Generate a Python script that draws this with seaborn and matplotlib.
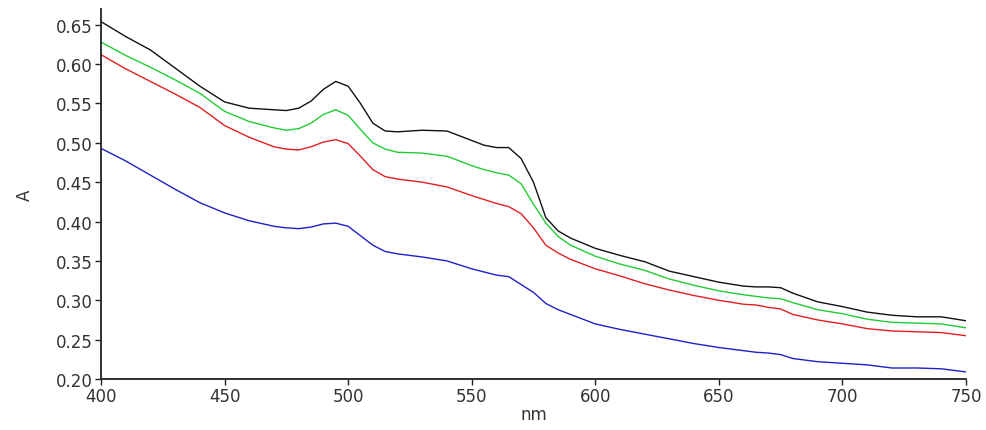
import numpy as np
import pandas as pd
import matplotlib
matplotlib.use("Agg")
import matplotlib.pyplot as plt
import seaborn as sns

wavelength = [400, 410, 420, 430, 440, 450, 460, 470, 475, 480, 485, 490, 495, 500, 505,
              510, 515, 520, 530, 540, 550, 555, 560, 565, 570, 575, 580, 585, 590, 600,
              610, 620, 630, 640, 650, 660, 665, 670, 675, 680, 690, 700, 710, 720, 730,
              740, 750]

black_series = [0.654, 0.635, 0.618, 0.595, 0.572, 0.552, 0.544, 0.542, 0.541, 0.544, 0.553,
                0.568, 0.578, 0.572, 0.550, 0.525, 0.515, 0.514, 0.516, 0.515, 0.503, 0.497,
                0.494, 0.494, 0.480, 0.450, 0.405, 0.388, 0.379, 0.366, 0.357, 0.349, 0.337,
                0.330, 0.323, 0.318, 0.317, 0.317, 0.316, 0.309, 0.298, 0.292, 0.285, 0.281,
                0.279, 0.279, 0.274]

green_series = [0.628, 0.611, 0.596, 0.580, 0.563, 0.540, 0.527, 0.519, 0.516, 0.518, 0.525,
                0.536, 0.542, 0.535, 0.517, 0.500, 0.492, 0.488, 0.487, 0.483, 0.471, 0.466,
                0.462, 0.459, 0.448, 0.422, 0.398, 0.381, 0.370, 0.356, 0.346, 0.338, 0.327,
                0.319, 0.312, 0.307, 0.305, 0.303, 0.302, 0.297, 0.288, 0.283, 0.276, 0.272,
                0.271, 0.270, 0.265]

red_series = [0.612, 0.594, 0.578, 0.562, 0.545, 0.522, 0.507, 0.495, 0.492, 0.491, 0.495,
              0.501, 0.504, 0.499, 0.483, 0.466, 0.457, 0.454, 0.450, 0.444, 0.433, 0.428,
              0.423, 0.419, 0.410, 0.392, 0.370, 0.360, 0.352, 0.340, 0.331, 0.321, 0.313,
              0.306, 0.300, 0.295, 0.294, 0.291, 0.289, 0.282, 0.275, 0.270, 0.264, 0.261,
              0.260, 0.259, 0.255]

blue_series = [0.493, 0.477, 0.459, 0.441, 0.424, 0.411, 0.401, 0.394, 0.392, 0.391, 0.393,
               0.397, 0.398, 0.394, 0.382, 0.370, 0.362, 0.359, 0.355, 0.350, 0.340, 0.336,
               0.332, 0.330, 0.320, 0.310, 0.296, 0.288, 0.282, 0.270, 0.263, 0.257, 0.251,
               0.245, 0.240, 0.236, 0.234, 0.233, 0.231, 0.226, 0.222, 0.220, 0.218, 0.214,
               0.214, 0.213, 0.209]

series_names = ["black", "green", "red", "blue"]
series_colors = ["#111111", "#22cc33", "#e02020", "#2020c8"]

x_ticks = [400, 450, 500, 550, 600, 650, 700, 750]
y_ticks = [0.20, 0.25, 0.30, 0.35, 0.40, 0.45, 0.50, 0.55, 0.60, 0.65]

frames = []
for name, vals in zip(series_names, [black_series, green_series, red_series, blue_series]):
    frames.append(pd.DataFrame({"nm": wavelength, "A": vals, "series": name}))
df = pd.concat(frames, ignore_index=True)

sns.set_style("ticks")
plt.rcParams["font.family"] = ["DejaVu Sans"]

fig = plt.figure(figsize=(9.87, 4.31), dpi=100)
ax = fig.add_axes([0.1023, 0.1183, 0.8764, 0.8585])

sns.lineplot(data=df, x="nm", y="A", hue="series", hue_order=series_names,
             palette=dict(zip(series_names, series_colors)), linewidth=1.0,
             legend=False, ax=ax)

ax.set_xlim(400, 750)
ax.set_ylim(0.20, 0.67)
ax.set_xticks(x_ticks)
ax.set_yticks(y_ticks)
ax.set_yticklabels([f"{v:.2f}" for v in y_ticks])
ax.tick_params(axis="both", direction="out", length=4, width=1, pad=2,
               labelsize=12, labelcolor="#333333", color="#222222")
for side in ["top", "right"]:
    ax.spines[side].set_visible(False)
for side in ["left", "bottom"]:
    ax.spines[side].set_linewidth(1.3)
    ax.spines[side].set_color("#222222")

ax.set_xlabel("nm", fontsize=12, color="#333333", labelpad=0)
ax.set_ylabel("A", fontsize=12, color="#333333", labelpad=16)

fig.savefig("out.png", dpi=100, facecolor="white")
